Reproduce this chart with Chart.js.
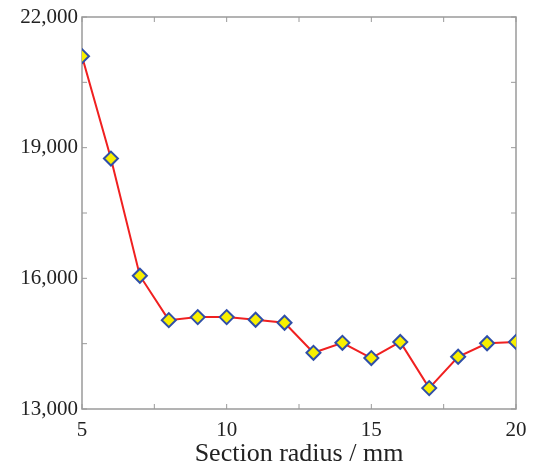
<!DOCTYPE html>
<html lang="en">
<head>
    <meta charset="UTF-8">
    <title>Section radius</title>
    <style>
        body {
            margin: 0;
            padding: 0;
            background: #ffffff;
        }

        .chart-box {
            width: 534px;
            height: 467px;
        }
    </style>
</head>

<body>
    <div class="chart-box">
        <canvas id="radiusChart"></canvas>
    </div>

    <script src="https://cdn.jsdelivr.net/npm/chart.js"></script>

    <script>
        const radius = [5, 6, 7, 8, 9, 10, 11, 12, 13, 14, 15, 16, 17, 18, 19, 20];
        const values = [21100, 18750, 16060, 15040, 15110, 15110, 15050, 14980, 14290, 14520, 14170, 14540, 13480, 14200, 14510, 14540];
        const xTicks = [5, 10, 15, 20];
        const yTicks = [13000, 16000, 19000, 22000];
        const xMinor = [7.5, 12.5, 17.5];
        const yMinor = [14500, 17500, 20500];

        const frameColor = '#9a9a9a';

        // box around the plot with short inward ticks
        const framePlugin = {
            id: 'frame',
            beforeDatasetsDraw(chart) {
                const { ctx, chartArea: a, scales } = chart;
                ctx.save();
                ctx.strokeStyle = frameColor;
                ctx.lineWidth = 1.5;
                ctx.strokeRect(a.left, a.top, a.right - a.left, a.bottom - a.top);

                ctx.lineWidth = 1;
                const len = 5;
                xTicks.concat(xMinor).forEach(v => {
                    const px = scales.x.getPixelForValue(v);
                    ctx.beginPath();
                    ctx.moveTo(px, a.bottom);
                    ctx.lineTo(px, a.bottom - len);
                    ctx.moveTo(px, a.top);
                    ctx.lineTo(px, a.top + len);
                    ctx.stroke();
                });
                yTicks.concat(yMinor).forEach(v => {
                    const py = scales.y.getPixelForValue(v);
                    ctx.beginPath();
                    ctx.moveTo(a.left, py);
                    ctx.lineTo(a.left + len, py);
                    ctx.moveTo(a.right, py);
                    ctx.lineTo(a.right - len, py);
                    ctx.stroke();
                });
                ctx.restore();
            }
        };

        const ctx = document.getElementById('radiusChart').getContext('2d');
        new Chart(ctx, {
            type: 'line',
            data: {
                datasets: [{
                    data: radius.map((r, i) => ({ x: r, y: values[i] })),
                    borderColor: '#f02020',
                    borderWidth: 2,
                    pointStyle: 'rectRot',
                    pointRadius: 7,
                    pointBackgroundColor: '#f7ef00',
                    pointBorderColor: '#2f4fa8',
                    pointBorderWidth: 2,
                    tension: 0
                }]
            },
            options: {
                responsive: true,
                maintainAspectRatio: false,
                animation: false,
                layout: { padding: { left: 0, top: 17, right: 18, bottom: 0 } },
                plugins: {
                    legend: { display: false },
                    tooltip: { enabled: false }
                },
                scales: {
                    x: {
                        type: 'linear',
                        min: 5,
                        max: 20,
                        afterBuildTicks: s => { s.ticks = xTicks.map(v => ({ value: v })); },
                        afterFit: s => { s.height = 58; s.paddingLeft = 0; s.paddingRight = 0; },
                        grid: { display: false, drawTicks: false },
                        border: { display: false },
                        ticks: {
                            padding: 11,
                            color: '#222',
                            font: { family: 'Liberation Serif', size: 21, lineHeight: 1 }
                        },
                        title: {
                            display: true,
                            text: 'Section radius / mm',
                            color: '#222',
                            padding: { top: -3, bottom: 0 },
                            font: { family: 'Liberation Serif', size: 26, lineHeight: 1 }
                        }
                    },
                    y: {
                        min: 13000,
                        max: 22000,
                        afterBuildTicks: s => { s.ticks = yTicks.map(v => ({ value: v })); },
                        afterFit: s => { s.width = 82; },
                        grid: { display: false, drawTicks: false },
                        border: { display: false },
                        ticks: {
                            padding: 4,
                            color: '#222',
                            font: { family: 'Liberation Serif', size: 21 },
                            callback: v => v.toLocaleString('en-US')
                        }
                    }
                }
            },
            plugins: [framePlugin]
        });
    </script>
</body>
</html>
